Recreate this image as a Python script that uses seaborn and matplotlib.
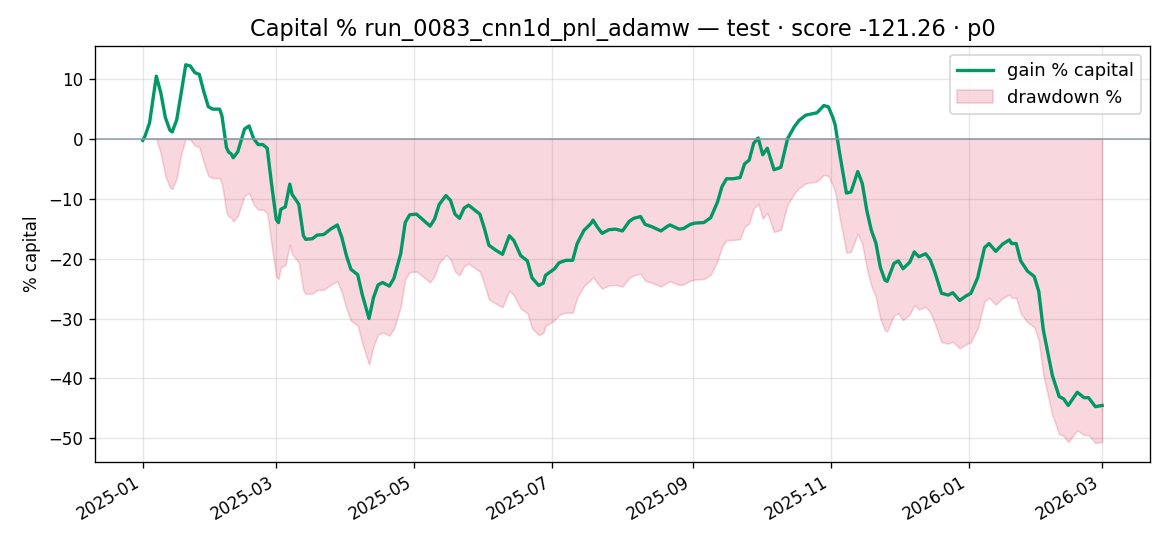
import numpy as np
import pandas as pd
import matplotlib
matplotlib.use("Agg")
import matplotlib.pyplot as plt
import matplotlib.dates as mdates
import seaborn as sns

# day offsets from 2025-01-01 and gain % capital
days = [0, 1, 3, 6, 8, 10, 12, 13, 15, 17, 19, 21, 23, 25, 27, 29, 31, 34, 35, 37,
        38, 39, 40, 42, 45, 47, 49, 51, 53, 55, 57, 59, 60, 61, 63, 65, 66, 68, 69, 71,
        72, 75, 77, 80, 83, 86, 88, 90, 92, 95, 97, 100, 102, 104, 106, 109, 111, 114, 116, 118,
        121, 124, 127, 129, 131, 134, 136, 138, 140, 142, 144, 147, 149, 151, 153, 156, 159, 161, 162, 164,
        167, 170, 172, 175, 177, 178, 182, 184, 187, 190, 192, 195, 198, 199, 201, 203, 206, 209, 212, 215,
        217, 220, 222, 225, 229, 232, 233, 237, 239, 242, 244, 248, 251, 254, 256, 258, 261, 264, 266, 268,
        270, 272, 274, 276, 279, 282, 285, 288, 290, 293, 298, 301, 303, 305, 306, 308, 311, 313, 316, 318,
        320, 322, 324, 326, 328, 329, 332, 334, 336, 339, 341, 343, 346, 348, 350, 353, 356, 358, 361, 364,
        366, 369, 372, 374, 377, 380, 383, 384, 386, 388, 391, 394, 396, 398, 402, 405, 407, 409, 411, 413,
        416, 418, 421, 424]
gain_pct = [-0.3, 0.4, 2.6, 10.4, 7.6, 3.5, 1.4, 1.1, 3.1, 7.6, 12.3, 12.1, 11.0, 10.7, 7.8, 5.3, 4.9, 4.9, 3.8, -1.5,
            -2.3, -2.5, -3.2, -2.2, 1.6, 2.1, 0.0, -1.0, -1.0, -1.6, -7.8, -13.5, -14.0, -11.8, -11.4, -7.6, -9.3, -10.4, -11.0, -16.2,
            -16.8, -16.7, -16.1, -16.0, -15.1, -14.4, -16.5, -19.5, -21.8, -22.7, -26.0, -30.0, -26.5, -24.4, -24.0, -24.6, -23.3, -19.2, -14.0, -12.7,
            -12.6, -13.6, -14.6, -13.4, -11.0, -9.5, -10.3, -12.6, -13.3, -11.6, -11.1, -12.0, -12.6, -15.0, -17.8, -18.6, -19.3, -17.2, -16.2, -17.0,
            -19.5, -20.4, -23.2, -24.5, -24.1, -22.8, -21.7, -20.7, -20.3, -20.3, -17.5, -15.3, -14.2, -13.6, -14.8, -15.8, -15.2, -15.1, -15.4, -13.8,
            -13.3, -13.0, -14.3, -14.7, -15.4, -14.6, -14.4, -15.1, -15.0, -14.3, -14.1, -14.0, -13.2, -10.6, -8.0, -6.7, -6.7, -6.5, -4.2, -3.6,
            -0.8, 0.1, -2.7, -1.6, -5.2, -4.8, 0.0, 2.0, 3.0, 3.9, 4.3, 5.5, 5.3, 3.5, 2.3, -2.5, -9.1, -8.9, -5.5, -7.5,
            -12.0, -15.3, -17.4, -21.5, -23.6, -23.8, -20.8, -20.4, -21.7, -20.6, -18.9, -19.7, -19.2, -20.2, -22.2, -25.8, -26.1, -25.7, -27.0, -26.2,
            -25.8, -23.2, -18.2, -17.5, -18.8, -17.6, -16.9, -17.5, -17.5, -20.4, -22.1, -23.0, -25.5, -31.9, -39.5, -43.0, -43.4, -44.5, -43.4, -42.3,
            -43.2, -43.2, -44.7, -44.5]

start_date = "2025-01-01"
title = "Capital % run_0083_cnn1d_pnl_adamw \u2014 test \u00b7 score -121.26 \u00b7 p0"

dates = pd.Timestamp(start_date) + pd.to_timedelta(days, unit="D")
gain = np.array(gain_pct)
equity = 100.0 + gain
peak = np.maximum.accumulate(equity)
drawdown = (equity / peak - 1.0) * 100.0

df = pd.DataFrame({"date": dates, "gain": gain, "drawdown": drawdown})

fig, ax = plt.subplots(figsize=(9.75, 4.55), dpi=120)
fig.subplots_adjust(left=0.081, right=0.983, top=0.916, bottom=0.154)

sns.lineplot(data=df, x="date", y="gain", ax=ax, color="#009966", lw=2,
             label="gain % capital")
ax.fill_between(df["date"], df["drawdown"], 0, color="crimson", alpha=0.17,
                lw=1, label="drawdown %")
ax.axhline(0, color="#8a99ab", lw=0.9)

ax.grid(True, alpha=0.3)
ax.set_axisbelow(True)
ax.set_title(title, fontsize=13.5)
ax.set_ylabel("% capital")
ax.set_xlabel("")
ax.xaxis.set_major_locator(mdates.MonthLocator(bymonth=[1, 3, 5, 7, 9, 11]))
ax.xaxis.set_major_formatter(mdates.DateFormatter("%Y-%m"))
ax.legend(loc="upper right", fontsize=10.7)
for lab in ax.get_xticklabels():
    lab.set_rotation(30)
    lab.set_ha("right")

fig.savefig("out.png", dpi=120)
